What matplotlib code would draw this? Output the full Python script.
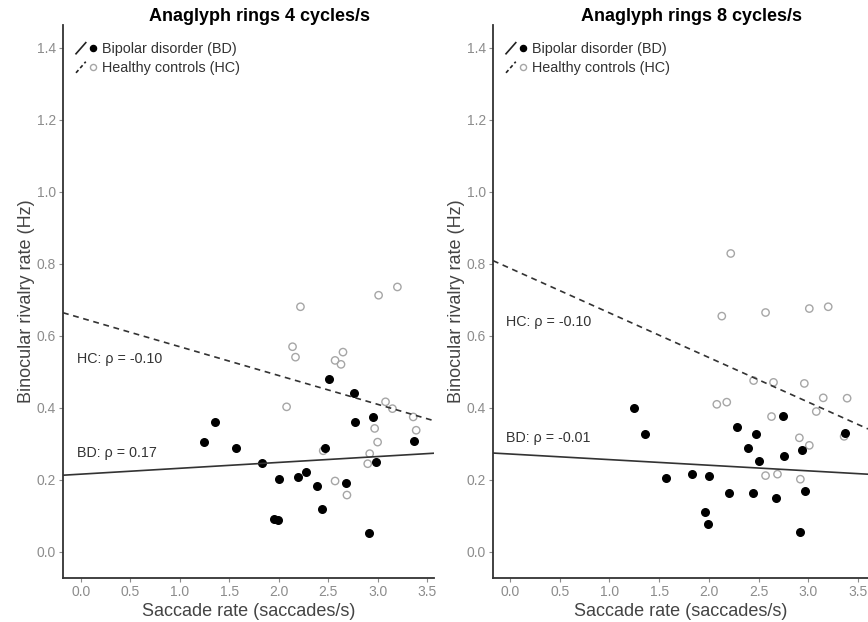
import matplotlib
matplotlib.use("Agg")
import matplotlib.pyplot as plt
from matplotlib.legend_handler import HandlerBase
from matplotlib.lines import Line2D

plt.rcParams['font.family'] = ['Liberation Sans', 'DejaVu Sans']

# 4 cycles/s panel
bd4_x = [1.25, 1.36, 1.57, 1.83, 2.00, 1.95, 1.99, 2.20, 2.28, 2.39, 2.44, 2.47, 2.51,
         2.68, 2.76, 2.77, 2.95, 2.98, 2.91, 3.37]
bd4_y = [0.305, 0.362, 0.290, 0.246, 0.203, 0.091, 0.090, 0.209, 0.222, 0.182, 0.118,
         0.290, 0.479, 0.192, 0.441, 0.360, 0.375, 0.249, 0.053, 0.308]
hc4_x = [2.14, 2.17, 2.08, 2.65, 2.57, 2.63, 2.45, 2.57, 2.69, 3.08, 3.15, 2.97, 3.00,
         2.92, 2.90, 3.36, 3.39, 2.22, 3.01, 3.20]
hc4_y = [0.570, 0.541, 0.403, 0.555, 0.532, 0.521, 0.281, 0.197, 0.158, 0.417, 0.398,
         0.343, 0.305, 0.273, 0.245, 0.375, 0.338, 0.681, 0.713, 0.736]

# 8 cycles/s panel
bd8_x = [1.25, 1.36, 1.57, 1.83, 2.00, 1.96, 1.99, 2.20, 2.28, 2.39, 2.47, 2.50, 2.44,
         2.68, 2.75, 2.76, 2.94, 2.97, 2.92, 3.37]
bd8_y = [0.399, 0.327, 0.204, 0.217, 0.212, 0.110, 0.077, 0.164, 0.348, 0.290, 0.327,
         0.252, 0.163, 0.149, 0.377, 0.266, 0.283, 0.169, 0.055, 0.329]
hc8_x = [2.22, 2.13, 2.57, 3.01, 3.20, 2.45, 2.65, 2.96, 2.08, 2.18, 3.15, 3.39, 3.08,
         2.63, 2.91, 3.01, 3.36, 2.57, 2.69, 2.92]
hc8_y = [0.829, 0.655, 0.665, 0.676, 0.681, 0.476, 0.471, 0.468, 0.410, 0.416, 0.428,
         0.427, 0.390, 0.376, 0.317, 0.296, 0.321, 0.212, 0.216, 0.202]

# fitted lines (intercept, slope) and correlation labels
titles = ['Anaglyph rings 4 cycles/s', 'Anaglyph rings 8 cycles/s']
bd_fit = [(0.216, 0.0163), (0.272, -0.0156)]
hc_fit = [(0.650, -0.080), (0.788, -0.124)]
bd_rho = ['BD: ρ = 0.17', 'BD: ρ = -0.01']
hc_rho = ['HC: ρ = -0.10', 'HC: ρ = -0.10']
bd_label_y = [0.275, 0.316]
hc_label_y = [0.536, 0.638]
yticks = [0.0, 0.2, 0.4, 0.6, 0.8, 1.0, 1.2, 1.4]
xticks = [0.0, 0.5, 1.0, 1.5, 2.0, 2.5, 3.0, 3.5]


class HandlerSlash(HandlerBase):
    # ggplot-style abline key: a short diagonal stroke followed by the point
    def create_artists(self, legend, orig_handle, xdescent, ydescent, width, height, fontsize, trans):
        line, marker = orig_handle
        x0 = -xdescent
        y0 = -ydescent
        slash = Line2D([x0, x0 + width * 0.45], [y0 - height * 0.1, y0 + height * 1.0],
                       color=line.get_color(), linestyle=line.get_linestyle(),
                       linewidth=line.get_linewidth(), transform=trans)
        if line.get_linestyle() == '--':
            slash.set_dashes((2.2, 1.6))
        dot = Line2D([x0 + width * 0.8], [y0 + height * 0.45], linestyle='none',
                     marker='o', markersize=marker.get_markersize() * 0.8,
                     markerfacecolor=marker.get_markerfacecolor(),
                     markeredgecolor=marker.get_markeredgecolor(),
                     markeredgewidth=marker.get_markeredgewidth(), transform=trans)
        return [slash, dot]


fig = plt.figure(figsize=(8.68, 6.22), dpi=100)
ax1 = fig.add_axes([0.0726, 0.071, 0.4274, 0.889])
ax2 = fig.add_axes([0.568, 0.071, 0.432, 0.889])

panels = [(ax1, bd4_x, bd4_y, hc4_x, hc4_y, (-0.18, 3.57)),
          (ax2, bd8_x, bd8_y, hc8_x, hc8_y, (-0.17, 3.60))]

for i, (ax, bx, by, hx, hy, xlim) in enumerate(panels):
    ax.scatter(hx, hy, s=28, facecolors='none', edgecolors='#a6a6a6', linewidths=1.0, zorder=2)
    ax.scatter(bx, by, s=30, color='black', zorder=3)
    b, m = bd_fit[i]
    ax.axline((0, b), slope=m, color='#333333', linewidth=1.2, zorder=4)
    b, m = hc_fit[i]
    ax.axline((0, b), slope=m, color='#333333', linewidth=1.2, linestyle=(0, (3.5, 2.8)), zorder=4)

    ax.text(-0.04, hc_label_y[i], hc_rho[i], fontsize=10.3, color='#333333', va='center')
    ax.text(-0.04, bd_label_y[i], bd_rho[i], fontsize=10.3, color='#333333', va='center')

    ax.set_xlim(*xlim)
    ax.set_ylim(-0.072, 1.464)
    ax.set_xticks(xticks)
    ax.set_yticks(yticks)
    ax.set_xticklabels([f'{t:.1f}' for t in xticks])
    ax.set_yticklabels([f'{t:.1f}' for t in yticks])
    ax.tick_params(labelsize=10, colors='#8c8c8c', length=3, width=0.8, pad=2)
    for s in ['top', 'right']:
        ax.spines[s].set_visible(False)
    for s in ['left', 'bottom']:
        ax.spines[s].set_color('#333333')
        ax.spines[s].set_linewidth(1.3)
    ax.set_title(titles[i], fontsize=13, fontweight='bold', pad=-1.5, x=0.53)
    ax.set_xlabel('Saccade rate (saccades/s)', fontsize=13, color='#444444', labelpad=3)
    ax.set_ylabel('Binocular rivalry rate (Hz)', fontsize=13, color='#444444', labelpad=1.5)

    h_bd = (Line2D([], [], color='#222222', linewidth=1.2),
            Line2D([], [], marker='o', color='black', markersize=5.5))
    h_hc = (Line2D([], [], color='#222222', linewidth=1.2, linestyle='--'),
            Line2D([], [], marker='o', markerfacecolor='none', markeredgecolor='#a6a6a6',
                   markersize=5.5, markeredgewidth=1.0))
    ax.legend([h_bd, h_hc], ['Bipolar disorder (BD)', 'Healthy controls (HC)'],
              handler_map={tuple: HandlerSlash()}, loc='upper left',
              bbox_to_anchor=(0.0, 0.993), frameon=False, fontsize=10.4,
              handlelength=1.5, handletextpad=0.3, labelspacing=0.35,
              borderaxespad=0.5, labelcolor='#333333')

fig.savefig('out.png', dpi=100)
